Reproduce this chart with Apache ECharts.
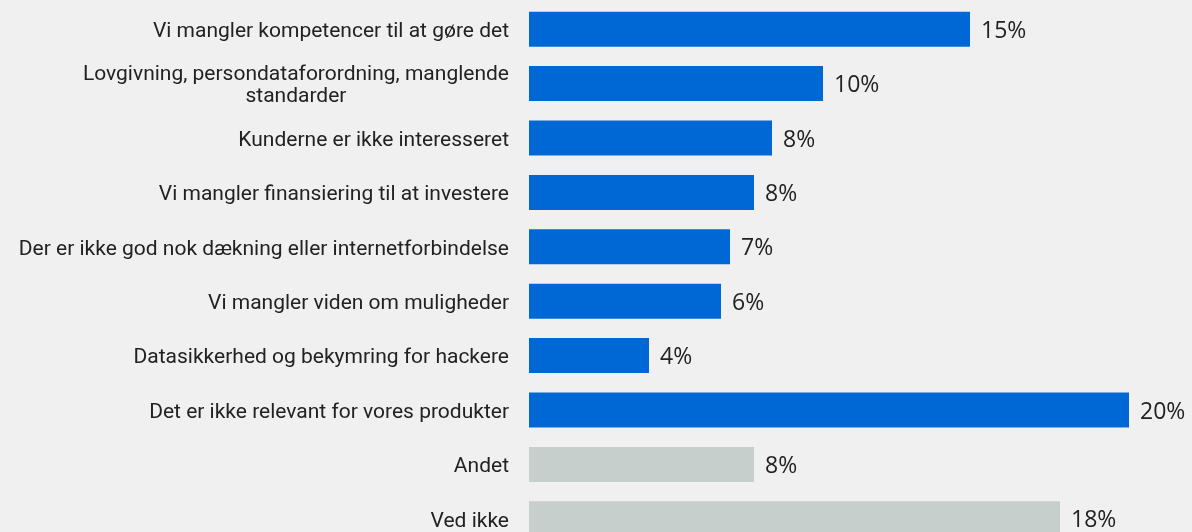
<!DOCTYPE html>
<html>
<head>
<meta charset="utf-8">
<script src="https://cdn.jsdelivr.net/npm/echarts@6/dist/echarts.min.js"></script>
<style>
  html, body { margin: 0; padding: 0; background: #f0f0f0; overflow: hidden; }
  /* the last row runs past the bottom edge of the view */
  #chart { width: 1192px; height: 560px; }
</style>
</head>
<body>
<div id="chart"></div>
<script>
// Barrierer for digitalisering (andel af virksomheder, %)
const categories = [
  'Vi mangler kompetencer til at gøre det',
  'Lovgivning, persondataforordning, manglende\nstandarder',
  'Kunderne er ikke interesseret',
  'Vi mangler finansiering til at investere',
  'Der er ikke god nok dækning eller internetforbindelse',
  'Vi mangler viden om muligheder',
  'Datasikkerhed og bekymring for hackere',
  'Det er ikke relevant for vores produkter',
  'Andet',
  'Ved ikke'
];
const values = [14.7, 9.8, 8.1, 7.5, 6.7, 6.4, 4.0, 20.0, 7.5, 17.7];
// 'barriere' = a named barrier, 'øvrig' = other / don't know
const answerGroup = ['barriere', 'barriere', 'barriere', 'barriere', 'barriere',
                     'barriere', 'barriere', 'barriere', 'øvrig', 'øvrig'];

const groupColor = { 'barriere': '#0068d5', 'øvrig': '#c6cfcb' };

const chart = echarts.init(document.getElementById('chart'), null, { renderer: 'canvas' });

const labelFont = 'Roboto, "Noto Sans", sans-serif';

chart.setOption({
  backgroundColor: '#f0f0f0',
  animation: false,
  grid: { left: 529, top: 2, width: 660, height: 544, containLabel: false },
  xAxis: {
    type: 'value', min: 0, max: 22, show: false
  },
  yAxis: {
    type: 'category',
    data: categories,
    inverse: true,
    axisLine: { show: false },
    axisTick: { show: false },
    splitLine: { show: false },
    axisLabel: {
      margin: 20,
      color: '#222222',
      fontFamily: labelFont,
      fontSize: 21,
      lineHeight: 22,
      align: 'right',
      padding: [5, 0, 0, 0],
      formatter: function (v) {
        const lines = v.split('\n');
        if (lines.length === 1) return v;
        return lines.map(function (l, i) {
          return (i === 0 ? '{first|' : '{rest|') + l + '}';
        }).join('\n');
      },
      rich: {
        first: { fontFamily: labelFont, fontSize: 21, lineHeight: 22, color: '#222222' },
        rest: { fontFamily: labelFont, fontSize: 21, lineHeight: 22, color: '#222222', align: 'center' }
      }
    }
  },
  series: [{
    type: 'bar',
    barWidth: 35,
    data: values.map(function (v, i) {
      return { value: v, itemStyle: { color: groupColor[answerGroup[i]] } };
    }),
    label: {
      show: true,
      position: 'right',
      distance: 11,
      offset: [0, 2],
      color: '#222222',
      fontFamily: '"Open Sans", sans-serif',
      fontSize: 23,
      formatter: function (p) { return Math.round(p.value) + '%'; }
    }
  }]
});
</script>
</body>
</html>
